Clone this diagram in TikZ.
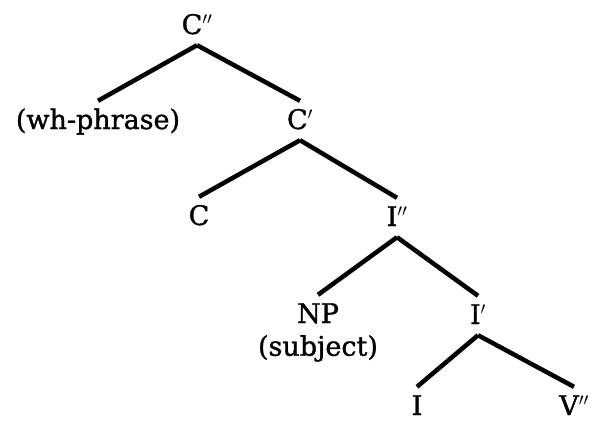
\documentclass[tikz,border=0pt]{standalone}
\usepackage{fontspec}
\setmainfont{DejaVu Serif}
\newfontfamily\treefont{DejaVu Serif}[FakeBold=1.2]
\usepackage{tikz}
\usetikzlibrary{positioning}
\tikzset{
  lbl/.style   ={anchor=base,inner xsep=1pt,inner ysep=9pt,
                 text height=19pt,text depth=2pt,
                 font=\fontsize{27}{32}\selectfont\treefont},
  note/.style  ={anchor=base,inner sep=0pt,
                 font=\fontsize{27}{32}\selectfont\treefont},
  branch/.style={line width=4.5pt,draw=black}
}
\begin{document}
\begin{tikzpicture}[x=1pt,y=-1pt]
    \useasboundingbox (0,0) rectangle (593,421);
    % --- C level ---
    \node[lbl] (cpp) at (197,34)  {C$''$};
    \node[lbl] (wh)  at (98,129)  {(wh-phrase)};
    \node[lbl] (cp)  at (300,129) {C$'$};
    \node[lbl] (c)   at (199,225) {C};
    % --- I level ---
    \node[lbl] (ipp) at (397,226) {I$''$};
    \node[lbl] (np)  at (318,323) {NP};
    \node[note,below=12pt of np.base] (subj) {(subject)};
    \node[lbl] (ip)  at (478,324) {I$'$};
    \node[lbl] (i)   at (417,415) {I};
    \node[lbl] (vpp) at (574,415) {V$''$};
    % --- branches ---
    \draw[branch] (cpp.south) -- (wh.north);
    \draw[branch] (cpp.south) -- (cp.north);
    \draw[branch] (cp.south)  -- (c.north);
    \draw[branch] (cp.south)  -- (ipp.north);
    \draw[branch] (ipp.south) -- (np.north);
    \draw[branch] (ipp.south) -- (ip.north);
    \draw[branch] (ip.south)  -- (i.north);
    \draw[branch] (ip.south)  -- (vpp.north);
\end{tikzpicture}
\end{document}
